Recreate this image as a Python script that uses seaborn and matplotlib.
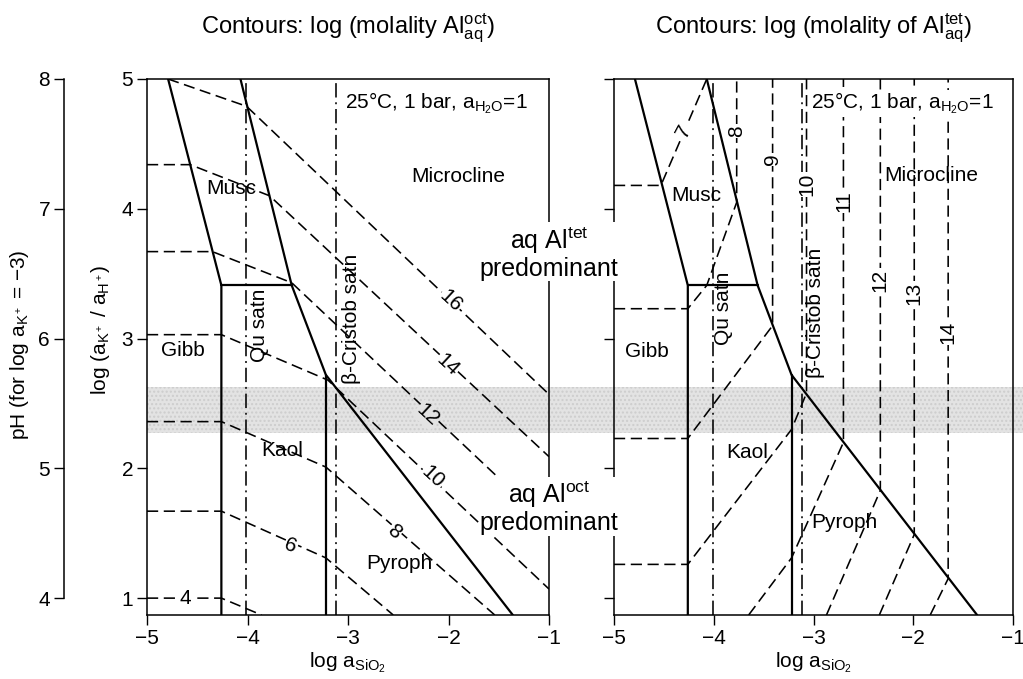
import numpy as np
import pandas as pd
import matplotlib
matplotlib.use("Agg")
import matplotlib.pyplot as plt
import matplotlib.transforms as mtrans
from matplotlib.patches import Rectangle
import seaborn as sns

# ---------------- data ----------------
x_lim = [-5.0, -1.0]
y_lim = [0.87, 5.0]
x_ticks = [-5, -4, -3, -2, -1]
y_ticks = [1, 2, 3, 4, 5]
ph_ticks = [4, 5, 6, 7, 8]
ph_offset = 3.0  # pH = log(aK/aH) + 3  (log aK+ = -3)

# solid phase boundaries
gibb_x = [-4.79, -4.26, -4.26]
gibb_y = [5.00, 3.41, 0.87]
musc_kaol_x = [-4.26, -3.56]
musc_kaol_y = [3.41, 3.41]
micro_x = [-4.07, -3.56, -3.22, -1.36]
micro_y = [5.00, 3.41, 2.72, 0.87]
kaol_pyr_x = [-3.22, -3.22]
kaol_pyr_y = [2.72, 0.87]
satn_x = [-4.01, -3.12]          # quartz, beta-cristobalite saturation

# shaded band
band_y = [2.27, 2.63]

# contours, left panel: log molality Al(oct)
oct_levels = ["4", "6", "8", "10", "12", "14", "16"]
oct_x = [[-5.0, -4.26, -3.86],
         [-5.0, -4.26, -3.22, -2.55],
         [-5.0, -4.26, -3.22, -1.54],
         [-5.0, -4.26, -3.20, -1.00],
         [-5.0, -4.35, -3.56, -1.00],
         [-5.0, -4.57, -3.78, -1.00],
         [-4.79, -4.01, -1.00]]
oct_y = [[1.00, 1.00, 0.87],
         [1.67, 1.67, 1.31, 0.87],
         [2.36, 2.36, 2.01, 0.87],
         [3.03, 3.03, 2.68, 1.07],
         [3.67, 3.67, 3.43, 1.56],
         [4.34, 4.34, 4.10, 2.09],
         [5.00, 4.79, 2.57]]
oct_lab_x = [-4.62, -3.57, -2.54, -2.16, -2.21, -2.01, -1.98]
oct_lab_y = [1.00, 1.40, 1.51, 1.93, 2.41, 2.80, 3.29]
oct_lab_rot = [0, -20, -41, -43, -43, -43, -43]

# contours, right panel: log molality Al(tet)
tet_levels = ["7", "8", "9", "10", "11", "12", "13", "14"]
tet_x = [[-5.0, -4.53, -4.07],
         [-5.0, -4.26, -4.07, -3.77, -3.77],
         [-5.0, -4.26, -3.41, -3.41],
         [-5.0, -4.26, -3.22, -3.07, -3.07],
         [-3.65, -3.22, -2.70, -2.70],
         [-2.87, -2.33, -2.33],
         [-2.34, -1.99, -1.99],
         [-1.83, -1.65, -1.65]]
tet_y = [[4.18, 4.18, 5.00],
         [3.23, 3.23, 3.41, 4.05, 5.00],
         [2.23, 2.23, 3.10, 5.00],
         [1.26, 1.26, 2.30, 2.58, 5.00],
         [0.87, 1.31, 2.20, 5.00],
         [0.87, 1.83, 5.00],
         [0.87, 1.49, 5.00],
         [0.87, 1.15, 5.00]]
tet_lab_x = [-4.30, -3.77, -3.41, -3.07, -2.70, -2.33, -1.99, -1.65]
tet_lab_y = [4.60, 4.60, 4.38, 4.19, 4.06, 3.45, 3.35, 3.05]
tet_lab_rot = [62, 90, 90, 90, 90, 90, 90, 90]

# field labels per panel
field_names = ["Gibb", "Musc", "Kaol", "Pyroph", "Microcline"]
field_x_left = [-4.64, -4.16, -3.65, -2.49, -1.90]
field_y_left = [2.91, 4.16, 2.14, 1.27, 4.25]
field_x_right = [-4.67, -4.18, -3.66, -2.69, -1.82]
field_y_right = [2.90, 4.10, 2.12, 1.58, 4.26]
satn_lab = ["Qu satn", "\u03b2-Cristob satn"]
satn_lab_x_left = [-3.88, -2.97]
satn_lab_y_left = [3.10, 3.15]
satn_lab_x_right = [-3.90, -2.98]
satn_lab_y_right = [3.23, 3.20]

# ---------------- style ----------------
sns.set_theme(style="white", rc={
    "axes.edgecolor": "black", "text.color": "black",
    "xtick.color": "black", "ytick.color": "black",
    "axes.labelcolor": "black", "axes.linewidth": 1.1,
})
FONT = ["Liberation Sans", "DejaVu Sans"]
plt.rcParams["font.family"] = FONT
plt.rcParams["mathtext.fontset"] = "custom"
plt.rcParams["mathtext.rm"] = "Liberation Sans"
plt.rcParams["mathtext.it"] = "Liberation Sans:italic"
plt.rcParams["mathtext.sf"] = "Liberation Sans"
plt.rcParams["mathtext.bf"] = "Liberation Sans:bold"

FS = 15
DASH = (0, (7, 3.5))
DASHDOT = (0, (9, 3, 1.2, 3))
BAND_FC = "#e3e3e3"

W, H = 1023, 679
fig = plt.figure(figsize=(W / 100, H / 100), dpi=100)


def fa(l, r, t, b):
    return [l / W, 1 - b / H, (r - l) / W, (b - t) / H]


ax1 = fig.add_axes(fa(147, 549, 79, 615))
ax2 = fig.add_axes(fa(614, 1013, 79, 615))


def line(ax, xs, ys, **kw):
    sns.lineplot(x=xs, y=ys, sort=False, estimator=None, color="black", ax=ax, **kw)


def contours(ax, xs_list, ys_list):
    rows = []
    for i, (xs, ys) in enumerate(zip(xs_list, ys_list)):
        for xx, yy in zip(xs, ys):
            rows.append({"id": i, "x": xx, "y": yy})
    df = pd.DataFrame(rows)
    sns.lineplot(data=df, x="x", y="y", units="id", estimator=None, sort=False,
                 color="black", lw=1.15, linestyle=DASH, ax=ax)


def in_band(yy):
    return band_y[0] <= yy <= band_y[1]


def base(ax, fx, fy, sx, sy):
    ax.set_facecolor("none")
    line(ax, gibb_x, gibb_y, lw=1.6)
    line(ax, musc_kaol_x, musc_kaol_y, lw=1.6)
    line(ax, micro_x, micro_y, lw=1.6)
    line(ax, kaol_pyr_x, kaol_pyr_y, lw=1.6)
    for xs in satn_x:
        line(ax, [xs, xs], y_lim, lw=1.15, linestyle=DASHDOT)
    for name, xx, yy in zip(field_names, fx, fy):
        ax.text(xx, yy, name, fontsize=FS, ha="center", va="center", zorder=6)
    for name, xx, yy in zip(satn_lab, sx, sy):
        ax.text(xx, yy, name, fontsize=FS, ha="center", va="center", rotation=90,
                zorder=6)
    ax.text(-3.03, 4.81, "25\u00b0C, 1 bar, a$_{\\rm H_2O}$=1", fontsize=FS,
            ha="left", va="center", zorder=6,
            bbox=dict(fc="white", ec="none", pad=0.5))


def finish(ax):
    ax.set_xlim(x_lim)
    ax.set_ylim(y_lim)
    ax.set_xticks(x_ticks)
    ax.set_yticks(y_ticks)
    ax.tick_params(axis="both", which="both", bottom=True, left=True, top=False,
                   right=False, direction="out", length=7, width=1.0,
                   labelsize=FS, pad=3)
    ax.set_xlabel("log a$_{\\rm SiO_2}$", fontsize=FS, labelpad=2)
    ax.set_ylabel("")
    for s in ax.spines.values():
        s.set_linewidth(1.1)
        s.set_color("black")


def labels(ax, texts, xs, ys, rots):
    for t, xx, yy, r in zip(texts, xs, ys, rots):
        fc = BAND_FC if in_band(yy) else "white"
        ax.text(xx, yy, t, fontsize=FS, ha="center", va="center", rotation=r,
                rotation_mode="anchor", zorder=7,
                bbox=dict(fc=fc, ec="none", pad=0.6))


# left panel
base(ax1, field_x_left, field_y_left, satn_lab_x_left, satn_lab_y_left)
contours(ax1, oct_x, oct_y)
labels(ax1, oct_levels, oct_lab_x, oct_lab_y, oct_lab_rot)
finish(ax1)
ax1.set_title("Contours: log (molality Al$^{\\rm oct}_{\\rm aq}$)", fontsize=17, pad=33)

# right panel
base(ax2, field_x_right, field_y_right, satn_lab_x_right, satn_lab_y_right)
contours(ax2, tet_x, tet_y)
labels(ax2, tet_levels, tet_lab_x, tet_lab_y, tet_lab_rot)
finish(ax2)
ax2.tick_params(axis="y", labelleft=False)
ax2.set_title("Contours: log (molality of Al$^{\\rm tet}_{\\rm aq}$)", fontsize=17, pad=33)

# shaded band across both panels
blend = mtrans.blended_transform_factory(fig.transFigure, ax1.transData)
fig.patches.append(Rectangle((147 / W, band_y[0]), (W - 147) / W, band_y[1] - band_y[0],
                             transform=blend, facecolor=BAND_FC, edgecolor="#cdcdcd",
                             hatch="....", lw=0, zorder=-1))

# predominance notes straddling the panel border
fig.text(549 / W, 3.66, "aq Al$^{\\rm tet}$\npredominant", transform=blend,
         fontsize=18, ha="center", va="center", linespacing=1.05, zorder=10,
         bbox=dict(fc="white", ec="none", pad=0.5))
fig.text(549 / W, 1.70, "aq Al$^{\\rm oct}$\npredominant", transform=blend,
         fontsize=18, ha="center", va="center", linespacing=1.05, zorder=10,
         bbox=dict(fc="white", ec="none", pad=0.5))

# pH axis
axp = fig.add_axes(fa(64, 65, 79, 615))
axp.set_facecolor("none")
axp.set_ylim(y_lim[0] + ph_offset, y_lim[1] + ph_offset)
for s in ["top", "right", "bottom"]:
    axp.spines[s].set_visible(False)
axp.spines["left"].set_bounds(ph_ticks[0], ph_ticks[-1])
axp.spines["left"].set_linewidth(1.1)
axp.spines["left"].set_color("black")
axp.set_xticks([])
axp.set_yticks(ph_ticks)
axp.tick_params(axis="y", left=True, direction="out", length=7, width=1.0,
                labelsize=FS, pad=3)

fig.text(20 / W, 1 - 345 / H, "pH (for log a$_{\\rm K^+}$ = \u22123)", rotation=90,
         fontsize=FS, ha="center", va="center")
fig.text(101 / W, 1 - 330 / H, "log (a$_{\\rm K^+}$ / a$_{\\rm H^+}$)", rotation=90,
         fontsize=FS, ha="center", va="center")

fig.savefig("out.png", dpi=100)
